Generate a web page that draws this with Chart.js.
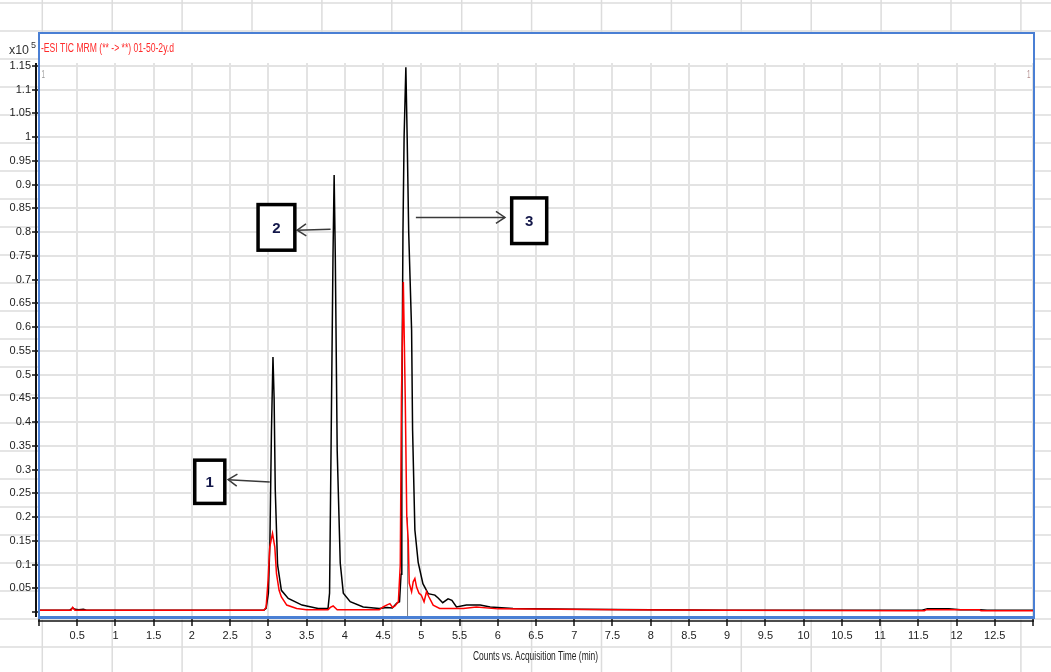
<!DOCTYPE html>
<html>
<head>
<meta charset="utf-8">
<script src="https://cdn.jsdelivr.net/npm/chart.js@4.4.0/dist/chart.umd.min.js"></script>
<style>
  html, body { margin: 0; padding: 0; background: #fff; }
  #grafik { display: block; }
</style>
</head>
<body>
<canvas id="grafik" width="1051" height="672"></canvas>
<script>
// Siyah iz (TIC) - zaman (dk) ve sayim (x10^5)
const siyahZaman = [0.00, 0.40, 0.44, 0.47, 0.52, 0.58, 0.62, 1.50, 2.50, 2.94, 2.97, 3.00, 3.02, 3.04, 3.06, 3.075,
    3.09, 3.12, 3.17, 3.26, 3.44, 3.65, 3.78, 3.80, 3.82, 3.845, 3.86, 3.875, 3.90, 3.94, 3.98, 4.07,
    4.24, 4.45, 4.55, 4.62, 4.68, 4.715, 4.735, 4.745, 4.76, 4.775, 4.798, 4.815, 4.835, 4.873, 4.886,
    4.916, 4.959, 5.021, 5.09, 5.178, 5.22, 5.28, 5.35, 5.40, 5.46, 5.59, 5.77, 5.90, 6.20, 7.00,
    8.00, 9.00, 11.55, 11.62, 11.90, 12.05, 12.30, 12.40, 13.00];
const siyahSayim = [0.004, 0.004, 0.009, 0.006, 0.005, 0.006, 0.004, 0.004, 0.004, 0.004, 0.008, 0.04, 0.15, 0.38, 0.537, 0.45,
    0.257, 0.100, 0.046, 0.029, 0.015, 0.008, 0.008, 0.04, 0.35, 0.75, 0.92, 0.75, 0.34, 0.103, 0.040, 0.022,
    0.011, 0.008, 0.010, 0.009, 0.019, 0.022, 0.08, 0.40, 0.80, 1.00, 1.147, 1.00, 0.80, 0.594, 0.383,
    0.173, 0.105, 0.060, 0.039, 0.036, 0.030, 0.020, 0.028, 0.025, 0.011, 0.015, 0.015, 0.011, 0.008, 0.006,
    0.005, 0.004, 0.004, 0.007, 0.007, 0.005, 0.005, 0.004, 0.004];

// Kirmizi iz (MRM)
const kirmiziZaman = [0.00, 0.42, 0.44, 0.47, 1.00, 2.94, 2.97, 2.996, 3.018, 3.054, 3.084, 3.106, 3.14, 3.17, 3.24, 3.37,
    3.50, 3.78, 3.81, 3.847, 3.90, 4.45, 4.50, 4.546, 4.589, 4.625, 4.656, 4.70, 4.725, 4.74, 4.765, 4.79,
    4.81, 4.829, 4.842, 4.873, 4.894, 4.916, 4.938, 4.97, 5.00, 5.036, 5.068, 5.10, 5.155, 5.24, 5.55,
    5.72, 6.00, 7.60, 9.00, 11.40, 11.58, 11.60, 12.30, 12.32, 13.00];
const kirmiziSayim = [0.004, 0.004, 0.010, 0.004, 0.004, 0.004, 0.010, 0.067, 0.137, 0.166, 0.137, 0.081, 0.046, 0.032, 0.015, 0.008,
    0.005, 0.005, 0.010, 0.013, 0.005, 0.005, 0.011, 0.015, 0.018, 0.010, 0.013, 0.022, 0.10, 0.45, 0.695, 0.45,
    0.20, 0.152, 0.061, 0.043, 0.064, 0.071, 0.053, 0.040, 0.036, 0.022, 0.043, 0.032, 0.015, 0.008, 0.008,
    0.011, 0.007, 0.005, 0.004, 0.003, 0.003, 0.005, 0.005, 0.003, 0.003];

// Tepe isaret cizgisi (gri dikey)
const isaretZaman = [4.82, 4.82];
const isaretSayim = [-0.01, 0.2];

// Eksen sinirlari
const xMin = 0, xMax = 13, xAdim = 0.5;
const yMin = -0.008, yMax = 1.156, yAdim = 0.05;

// Numarali kutular ve oklar (veri koordinatlarinda)
const kutular = [
    { metin: '1', x0: 2.037, x1: 2.43, yUst: 0.32, yAlt: 0.229, okBas: [3.018, 0.274], okUc: [2.473, 0.279] },
    { metin: '2', x0: 2.865, x1: 3.346, yUst: 0.858, yAlt: 0.762, okBas: [3.813, 0.806], okUc: [3.376, 0.804] },
    { metin: '3', x0: 6.182, x1: 6.64, yUst: 0.872, yAlt: 0.776, okBas: [4.929, 0.831], okUc: [6.094, 0.831] }
];

const ETIKET_FONT = "'Liberation Sans', Arial, sans-serif";

function noktalar(xs, ys) {
    return xs.map((x, i) => ({ x: x, y: ys[i] }));
}

// Yatay sikistirilmis yazi
function darYaz(ctx, metin, x, y, genislik) {
    const w = ctx.measureText(metin).width;
    ctx.save();
    ctx.translate(x, y);
    ctx.scale(genislik / w, 1);
    ctx.fillText(metin, 0, 0);
    ctx.restore();
}

// Arka plan: tablo cizgileri + grafik cercevesi ici beyaz
const arkaPlan = {
    id: 'arkaPlan',
    beforeDraw(chart) {
        const ctx = chart.ctx;
        ctx.save();
        ctx.fillStyle = '#fff';
        ctx.fillRect(0, 0, chart.width, chart.height);
        ctx.strokeStyle = '#dcdcdc';
        ctx.lineWidth = 1.5;
        for (let y = 3; y < chart.height; y += 28) {
            ctx.beginPath(); ctx.moveTo(0, y); ctx.lineTo(chart.width, y); ctx.stroke();
        }
        for (let x = 42.3; x < chart.width; x += 69.9) {
            ctx.beginPath(); ctx.moveTo(x, 0); ctx.lineTo(x, chart.height); ctx.stroke();
        }
        ctx.fillStyle = '#fff';
        ctx.fillRect(38, 32, 996, 586);
        ctx.restore();
    }
};

// Cerceve, eksen cizgileri, yazilar, kutular
const ustKatman = {
    id: 'ustKatman',
    afterDraw(chart) {
        const ctx = chart.ctx;
        const xs = chart.scales.x, ys = chart.scales.y;
        const alan = chart.chartArea;
        ctx.save();

        // siyah eksen cizgileri
        ctx.strokeStyle = '#111';
        ctx.lineWidth = 2;
        ctx.beginPath(); ctx.moveTo(36, alan.top); ctx.lineTo(36, 617); ctx.stroke();
        ctx.lineWidth = 1.5;
        ctx.beginPath(); ctx.moveTo(38, 621); ctx.lineTo(1034, 621); ctx.stroke();

        // mavi cerceve
        ctx.strokeStyle = '#4a7fd4';
        ctx.lineWidth = 2;
        ctx.beginPath();
        ctx.moveTo(39, 617); ctx.lineTo(39, 33); ctx.lineTo(1034, 33); ctx.lineTo(1034, 617);
        ctx.stroke();
        ctx.lineWidth = 3;
        ctx.beginPath(); ctx.moveTo(38, 617.5); ctx.lineTo(1035, 617.5); ctx.stroke();

        // baslik
        ctx.textBaseline = 'middle';
        ctx.textAlign = 'left';
        ctx.font = "12px 'Liberation Sans', sans-serif";
        ctx.fillStyle = '#ff2a2a';
        darYaz(ctx, '-ESI TIC MRM (** -> **) 01-50-2y.d', 41, 49, 133);

        ctx.fillStyle = '#333';
        darYaz(ctx, 'x10', 9, 51, 20);
        ctx.font = "9px 'Liberation Sans', sans-serif";
        ctx.fillText('5', 31, 46);

        ctx.font = "11px 'Liberation Sans', sans-serif";
        ctx.fillStyle = '#9a9a9a';
        darYaz(ctx, '1', 41.5, 75, 3.5);
        ctx.fillStyle = '#b08a8a';
        darYaz(ctx, '1', 1027, 75, 3.5);

        // eksen basligi
        ctx.font = "12px 'Liberation Sans', sans-serif";
        ctx.fillStyle = '#222';
        darYaz(ctx, 'Counts vs. Acquisition Time (min)', 473, 657, 125);

        // kutular ve oklar
        kutular.forEach(k => {
            const bx = xs.getPixelForValue(k.okBas[0]), by = ys.getPixelForValue(k.okBas[1]);
            const ux = xs.getPixelForValue(k.okUc[0]), uy = ys.getPixelForValue(k.okUc[1]);
            ctx.strokeStyle = '#3a3a3a';
            ctx.lineWidth = 1.5;
            ctx.beginPath(); ctx.moveTo(bx, by); ctx.lineTo(ux, uy); ctx.stroke();
            const aci = Math.atan2(uy - by, ux - bx);
            ctx.beginPath();
            ctx.moveTo(ux - 9 * Math.cos(aci) + 6 * Math.sin(aci), uy - 9 * Math.sin(aci) - 6 * Math.cos(aci));
            ctx.lineTo(ux, uy);
            ctx.lineTo(ux - 9 * Math.cos(aci) - 6 * Math.sin(aci), uy - 9 * Math.sin(aci) + 6 * Math.cos(aci));
            ctx.stroke();

            const x0 = xs.getPixelForValue(k.x0), x1 = xs.getPixelForValue(k.x1);
            const y0 = ys.getPixelForValue(k.yUst), y1 = ys.getPixelForValue(k.yAlt);
            ctx.fillStyle = '#fff';
            ctx.fillRect(x0, y0, x1 - x0, y1 - y0);
            ctx.strokeStyle = '#000';
            ctx.lineWidth = 3.5;
            ctx.strokeRect(x0, y0, x1 - x0, y1 - y0);
            ctx.fillStyle = '#14184a';
            ctx.font = "bold 15px 'Liberation Sans', sans-serif";
            ctx.textAlign = 'center';
            ctx.fillText(k.metin, (x0 + x1) / 2, (y0 + y1) / 2 + 1);
            ctx.textAlign = 'left';
        });
        ctx.restore();
    }
};

const ctx = document.getElementById('grafik').getContext('2d');

const grafik = new Chart(ctx, {
    type: 'line',
    data: {
        datasets: [
            {
                label: 'isaret',
                data: noktalar(isaretZaman, isaretSayim),
                borderColor: '#808080',
                borderWidth: 1,
                pointRadius: 0,
                order: 3
            },
            {
                label: 'TIC',
                data: noktalar(siyahZaman, siyahSayim),
                borderColor: '#000',
                borderWidth: 1.5,
                pointRadius: 0,
                tension: 0,
                order: 2
            },
            {
                label: 'MRM',
                data: noktalar(kirmiziZaman, kirmiziSayim),
                borderColor: '#ff0000',
                borderWidth: 1.5,
                pointRadius: 0,
                tension: 0,
                order: 1
            }
        ]
    },
    options: {
        responsive: false,
        animation: false,
        devicePixelRatio: 1,
        layout: { padding: { top: 63, right: 18, bottom: 0, left: 0 } },
        plugins: {
            legend: { display: false },
            tooltip: { enabled: false }
        },
        scales: {
            x: {
                type: 'linear',
                min: xMin,
                max: xMax,
                afterFit: s => { s.height = 56; },
                border: { display: false },
                grid: {
                    color: '#e3e3e3',
                    lineWidth: 2,
                    tickColor: '#111',
                    tickLength: 10,
                    tickWidth: 1.5
                },
                ticks: {
                    stepSize: xAdim,
                    autoSkip: false,
                    maxRotation: 0,
                    padding: 3,
                    color: '#222',
                    font: { family: ETIKET_FONT, size: 11 },
                    callback: v => (v <= xMin || v >= xMax) ? '' : String(v)
                }
            },
            y: {
                min: yMin,
                max: yMax,
                afterFit: s => { s.width = 39; },
                border: { display: false },
                grid: {
                    color: c => (c.tick && Math.abs(c.tick.value) < 1e-6) ? 'rgba(0,0,0,0)' : '#e3e3e3',
                    lineWidth: 2,
                    tickColor: '#111',
                    tickLength: 7,
                    tickWidth: 1.5
                },
                ticks: {
                    stepSize: yAdim,
                    includeBounds: false,
                    autoSkip: false,
                    padding: 1,
                    color: '#222',
                    font: { family: ETIKET_FONT, size: 11 },
                    callback: v => v <= 0.001 ? '' : String(Math.round(v * 100) / 100)
                }
            }
        }
    },
    plugins: [arkaPlan, ustKatman]
});
</script>
</body>
</html>
